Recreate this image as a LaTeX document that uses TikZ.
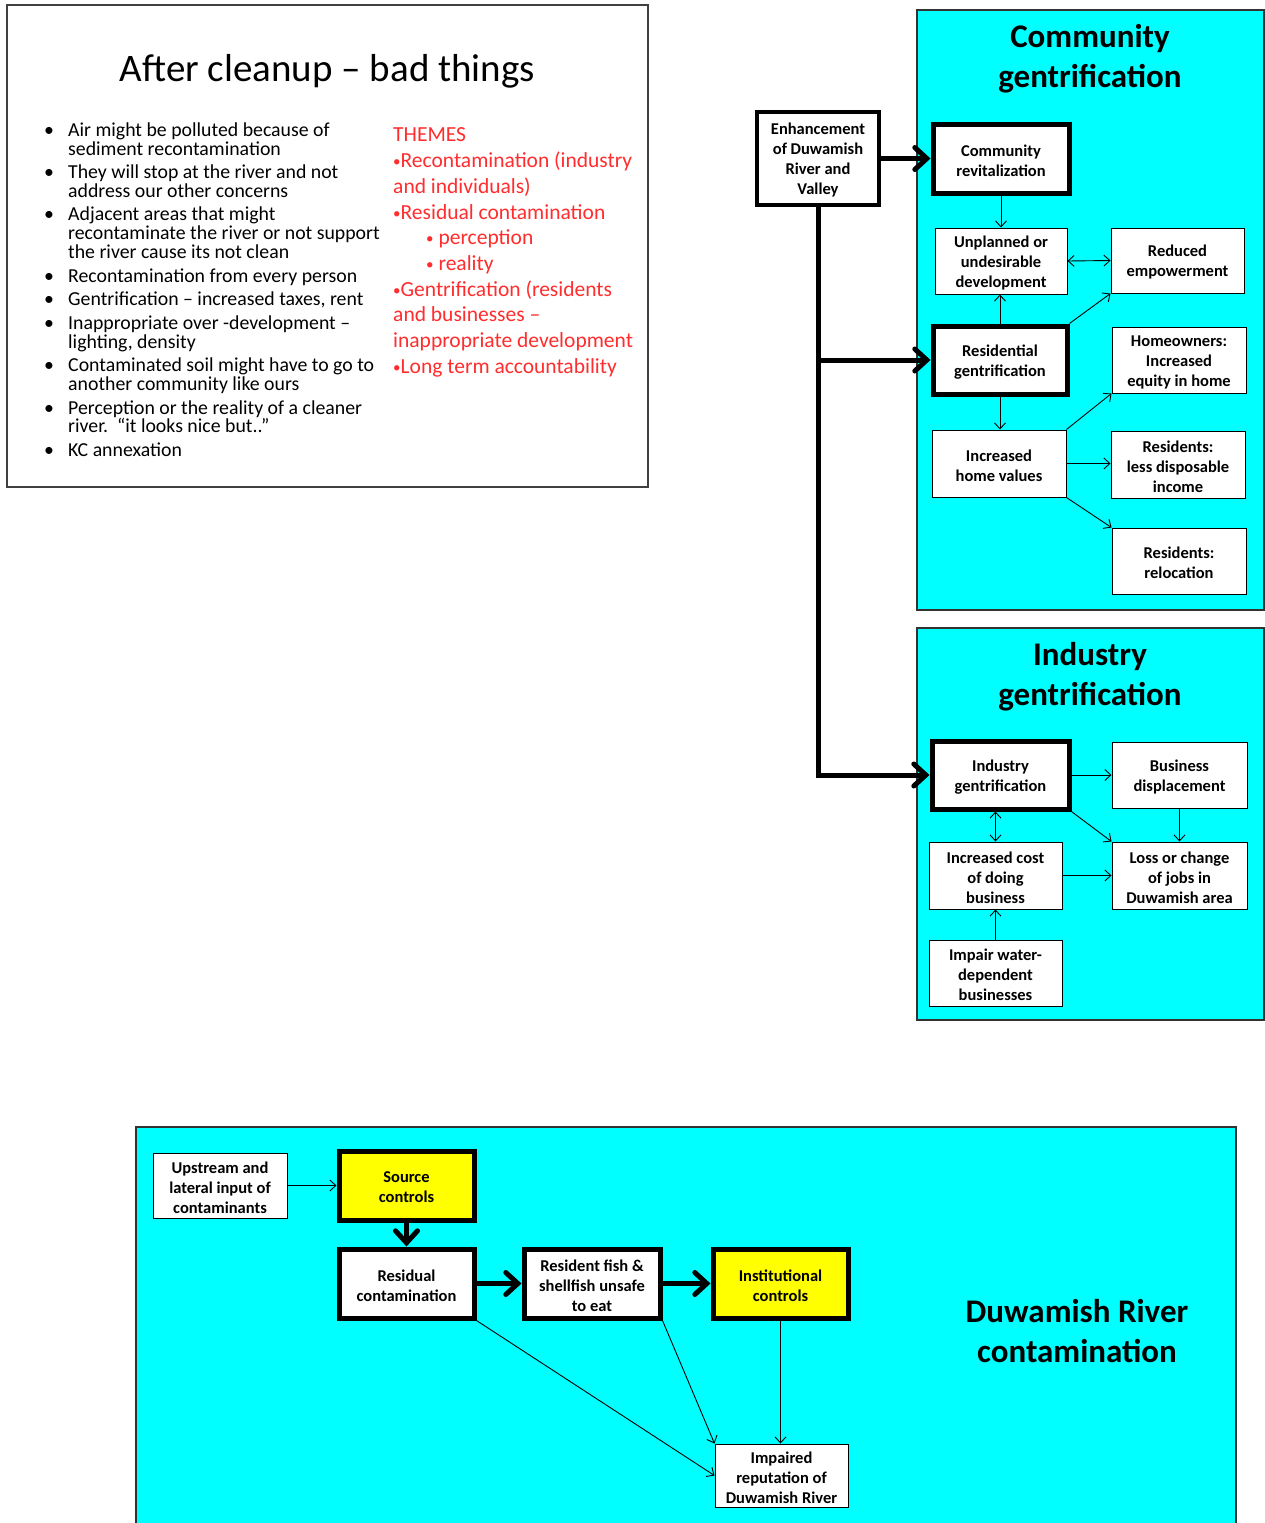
\documentclass[tikz,border=0pt]{standalone}
\usepackage{fontspec}
\setmainfont{Carlito}
\usetikzlibrary{arrows.meta}
\definecolor{cyanbg}{RGB}{0,255,255}
\definecolor{yel}{RGB}{255,255,0}
\definecolor{redtx}{RGB}{255,45,45}
\newcommand\mybox[7]{\node (#1) [#2, minimum width={(#5-#3)*1pt}, minimum height={(#6-#4)*1pt}] at ({(#3+#5)/2},{(#4+#6)/2}) {};
  \node (#1t) [boxtext] at ({(#3+#5)/2},{(#4+#6)/2+2}) {#7};}
\newcommand\smb{\raisebox{1.5pt}{\fontsize{15}{15}\selectfont•}}
\begin{document}
\begin{tikzpicture}[x=1pt,y=-1pt,
  box/.style={draw=black, fill=white, line width=1pt, inner sep=0pt},
  boxtext/.style={align=center, inner sep=0pt, font=\fontsize{16.5}{20}\selectfont\bfseries},
  tbox/.style={box, line width=5pt},
  ybox/.style={tbox, fill=yel},
  panel/.style={draw=black!80, line width=1.5pt, fill=cyanbg, inner sep=0pt},
  ptitle/.style={font=\fontsize{33}{40}\selectfont\bfseries, align=center},
  arr/.style={line width=0.9pt, -{Straight Barb[length=6pt,width=11pt]}},
  darr/.style={line width=0.9pt, {Straight Barb[length=6pt,width=11pt]}-{Straight Barb[length=6pt,width=11pt]}},
  fat/.style={line width=5pt, -{Straight Barb[length=12pt,width=22pt,line cap=round]}},
  btxt/.style={anchor=base west, inner sep=0pt, font=\fontsize{19.8}{19.8}\selectfont},
  rtxt/.style={anchor=base west, inner sep=0pt, text=redtx, font=\fontsize{21.5}{21.5}\selectfont},
]
\useasboundingbox (0,0) rectangle (1265,1523);
\fill[white] (0,0) rectangle (1265,1523);

% ---------- slide ----------
\node (slide) [draw=black!75, line width=2pt, minimum width=641pt, minimum height=482pt, inner sep=0pt] at (327.5,246) {};
\node (title) [font=\fontsize{39}{39}\selectfont] at (327.5,71) {After cleanup – bad things};
\foreach \y/\t [count=\i] in {
  130/{Air might be polluted because of},
  149/{sediment recontamination},
  172/{They will stop at the river and not},
  191/{address our other concerns},
  214/{Adjacent areas that might},
  233/{recontaminate the river or not support},
  252/{the river cause its not clean},
  276/{Recontamination from every person},
  299/{Gentrification – increased taxes, rent},
  323/{Inappropriate over -development –},
  342/{lighting, density},
  365/{Contaminated soil might have to go to},
  384/{another community like ours},
  408/{Perception or the reality of a cleaner},
  426/{river.\ \ “it looks nice but..”},
  450/{KC annexation}}
  {\node (bl\i) [btxt] at (68,\y+6) {\t};}
\foreach \y [count=\i] in {130,172,214,276,299,323,365,408,450}
  {\node (bb\i) [btxt] at (44,\y+6) {•};}
\foreach \x/\y/\t [count=\i] in {
  393/135/{THEMES},
  393/161/{\smb Recontamination (industry},
  393/187/{and individuals)},
  393/213/{\smb Residual contamination},
  426/238/{\smb\ perception},
  426/264/{\smb\ reality},
  393/290/{\smb Gentrification (residents},
  393/315/{and businesses –},
  393/341/{inappropriate development},
  393/367/{\smb Long term accountability}}
  {\node (rl\i) [rtxt] at (\x,\y+6.5) {\t};}

% ---------- panels ----------
\node (cpan) [panel, minimum width=347pt, minimum height=600pt] at (1090.5,310) {};
\node (ipan) [panel, minimum width=347pt, minimum height=392pt] at (1090.5,824) {};
\node (dpan) [panel, minimum width=1100pt, minimum height=420pt] at (686,1337) {};
\node (ctitle) [ptitle] at (1090,59) {Community\\gentrification};
\node (ititle) [ptitle] at (1090,677) {Industry\\gentrification};
\node (dtitle) [ptitle] at (1077,1331) {Duwamish River\\contamination};

% ---------- community ----------
\mybox{en}{box, line width=4pt}{757}{112}{879}{205}{Enhancement\\of Duwamish\\River and\\Valley}
\mybox{cr}{tbox}{933}{124}{1069}{193}{Community\\revitalization}
\mybox{un}{box}{935}{228}{1067}{294}{Unplanned or\\undesirable\\development}
\mybox{re}{box}{1111}{228}{1244}{293}{Reduced\\empowerment}
\mybox{rg}{tbox}{933}{326}{1067}{394}{Residential\\gentrification}
\mybox{ho}{box}{1112}{327}{1246}{393}{Homeowners:\\Increased\\equity in home}
\mybox{hv}{box}{932}{430}{1066}{497}{Increased\\home values}
\mybox{ld}{box}{1111}{431}{1245}{498}{Residents:\\less disposable\\income}
\mybox{rl}{box}{1112}{528}{1246}{594}{Residents:\\relocation}

% ---------- industry ----------
\mybox{ig}{tbox}{932}{741}{1069}{809}{Industry\\gentrification}
\mybox{bd}{box}{1112}{742}{1247}{808}{Business\\displacement}
\mybox{ic}{box}{929}{842}{1062}{909}{Increased cost\\of doing\\business}
\mybox{lc}{box}{1112}{842}{1247}{909}{Loss or change\\of jobs in\\Duwamish area}
\mybox{iw}{box}{929}{940}{1062}{1006}{Impair water-\\dependent\\businesses}

% ---------- river ----------
\mybox{up}{box}{153}{1153}{287}{1218}{Upstream and\\lateral input of\\contaminants}
\mybox{sc}{ybox}{339}{1151}{474}{1220}{Source\\controls}
\mybox{rc}{tbox}{339}{1249}{474}{1318}{Residual\\contamination}
\mybox{rf}{tbox}{524}{1249}{660}{1318}{Resident fish \&\\shellfish unsafe\\to eat}
\mybox{inst}{ybox}{713}{1249}{848}{1318}{Institutional\\controls}
\mybox{im}{box}{715}{1444}{848}{1507}{Impaired\\reputation of\\Duwamish River}

% ---------- connectors ----------
\draw[fat] (en.east) -- (cr.west);
\draw[fat] (en.south) |- (ig.west);
\coordinate (b1) at (en.south |- rg.west);
\draw[fat] (b1) -- (rg.west);

\draw[arr] (cr.south) -- (cr.south |- un.north);
\draw[darr] (un.east) -- (re.west);
\draw[arr] (rg.north) -- (rg.north |- un.south);
\draw[arr] (rg.north east) -- (re.south west);
\draw[arr] (rg.south) -- (rg.south |- hv.north);
\draw[arr] (hv.north east) -- (ho.south west);
\draw[arr] (hv.east) -- (hv.east -| ld.west);
\draw[arr] (hv.south east) -- (rl.north west);

\draw[arr] (ig.east) -- (bd.west);
\draw[arr] (bd.south -| lc.north) -- (lc.north);
\draw[arr] (ig.south east) -- (lc.north west);
\draw[darr] (ic.north |- ig.south) -- (ic.north);
\draw[arr] (ic.east) -- (lc.west);
\draw[arr] (iw.north) -- (ic.south);

\draw[arr] (up.east) -- (sc.west);
\draw[fat] (sc.south) -- (rc.north);
\draw[fat] (rc.east) -- (rf.west);
\draw[fat] (rf.east) -- (inst.west);
\draw[arr] (rc.south east) -- (im.west);
\draw[arr] (rf.south east) -- (im.north west);
\draw[arr] (inst.south) -- (inst.south |- im.north);
\end{tikzpicture}
\end{document}
